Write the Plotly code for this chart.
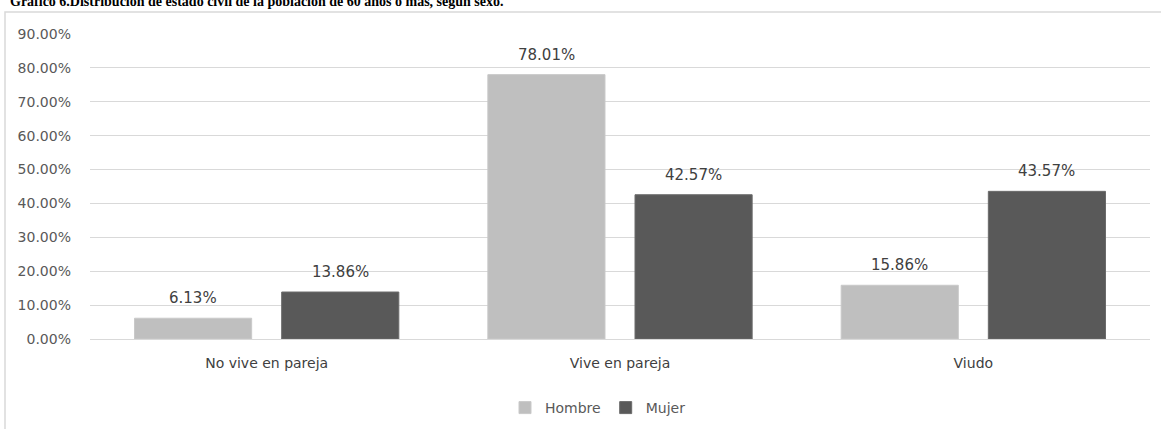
import plotly.graph_objects as go

categories = ["No vive en pareja", "Vive en pareja", "Viudo"]
hombre = [0.0613, 0.7801, 0.1586]
mujer = [0.1386, 0.4257, 0.4357]
y_ticks = [0, 0.1, 0.2, 0.3, 0.4, 0.5, 0.6, 0.7, 0.8, 0.9]
title_text = "Gráfico 6.Distribución de estado civil de la población de 60 años o más, según sexo."

FONT = "DejaVu Sans"
W, H = 1161, 429
L, R, T, B = 90, 11, 34, 90
pw, ph = W - L - R, H - T - B
BARGAP, BARGROUPGAP = 0.167, 0.204

def px_x(p):
    return (p - L) / pw

def px_y(p):
    return 1 + (T - p) / ph

# pixel offset of each series' bar centre from its category centre
slot = (pw / len(categories)) * (1 - BARGAP) / 2
offsets = {"Hombre": -slot / 2, "Mujer": slot / 2}

fig = go.Figure()
fig.add_trace(go.Bar(
    name="Hombre", x=categories, y=hombre,
    marker=dict(color="#BFBFBF", line=dict(color="#C9C9C9", width=1)),
))
fig.add_trace(go.Bar(
    name="Mujer", x=categories, y=mujer,
    marker=dict(color="#595959", line=dict(color="#6B6B6B", width=1)),
))

annotations = []
for name, vals in (("Hombre", hombre), ("Mujer", mujer)):
    for c, v in zip(categories, vals):
        annotations.append(dict(
            x=c, y=v, xref="x", yref="y", text=f"{v*100:.2f}%",
            xshift=offsets[name], yshift=9, xanchor="center", yanchor="bottom",
            showarrow=False, font=dict(family=FONT, size=15, color="#404040")))

annotations.append(dict(
    text="<b>" + title_text + "</b>", xref="paper", yref="paper",
    x=px_x(8), y=px_y(11), xanchor="left", yanchor="bottom", showarrow=False,
    font=dict(family="Liberation Serif", size=14, color="#000000")))

fig.update_layout(
    width=W, height=H,
    margin=dict(l=L, r=R, t=T, b=B, autoexpand=False),
    paper_bgcolor="white", plot_bgcolor="white",
    barmode="group", bargap=BARGAP, bargroupgap=BARGROUPGAP,
    font=dict(family=FONT, size=14, color="#595959"),
    showlegend=True,
    legend=dict(orientation="h", x=px_x(598), xanchor="center",
                y=px_y(408), yanchor="middle",
                font=dict(family=FONT, size=14, color="#595959"),
                itemwidth=30, tracegroupgap=0),
    xaxis=dict(showgrid=False, showline=False, ticks="", automargin=False,
               ticklabelstandoff=14,
               tickfont=dict(family=FONT, size=14, color="#404040")),
    yaxis=dict(range=[0, 0.9], tickvals=y_ticks, tickformat=".2%", automargin=False,
               showgrid=True, gridcolor="#D9D9D9", gridwidth=1,
               zeroline=True, zerolinecolor="#D9D9D9", zerolinewidth=1,
               showline=False, ticks="", ticklabelstandoff=18,
               tickfont=dict(family=FONT, size=14, color="#595959")),
    shapes=[dict(type="rect", xref="paper", yref="paper",
                 x0=px_x(5), x1=1.2, y0=-1.0, y1=px_y(12),
                 line=dict(color="#D9D9D9", width=1.5), layer="below")],
    annotations=annotations,
)

fig.write_html("out.html", config={"displayModeBar": False},
               post_script="document.body.style.margin='0';document.body.style.overflow='hidden';")
